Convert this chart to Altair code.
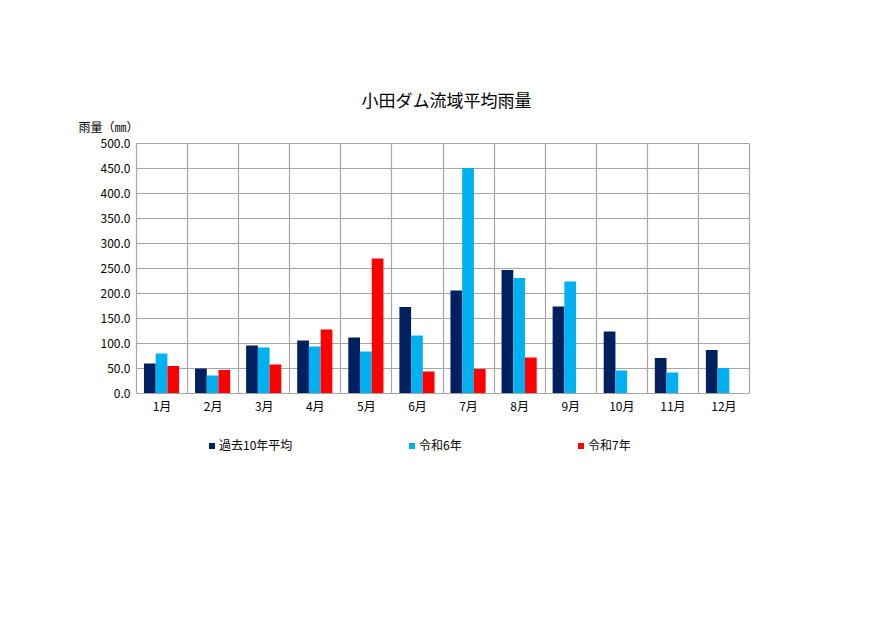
import altair as alt
import pandas as pd

months = ["1月", "2月", "3月", "4月", "5月", "6月", "7月", "8月", "9月", "10月", "11月", "12月"]
series_names = ["過去10年平均", "令和6年", "令和7年"]
avg10 = [59, 49, 95, 105, 111, 172, 205, 246, 173, 123, 70, 86]
r6 = [79, 35, 91, 93, 83, 115, 450, 230, 223, 45, 41, 50]
r7 = [54, 46, 57, 127, 269, 43, 48, 71, None, None, None, None]
colors = ["#002060", "#00B0F0", "#FF0000"]
y_ticks = [0, 50, 100, 150, 200, 250, 300, 350, 400, 450, 500]

rows = []
for i, m in enumerate(months):
    for s, vals in zip(series_names, [avg10, r6, r7]):
        if vals[i] is not None:
            rows.append({"month": m, "series": s, "value": vals[i]})
df = pd.DataFrame(rows)

font = "Noto Sans CJK JP"
grid_color = "#a6a6a6"

chart = alt.Chart(df).mark_bar().encode(
    x=alt.X("month:N", sort=months,
            scale=alt.Scale(paddingInner=0, paddingOuter=0),
            axis=alt.Axis(title=None, labelAngle=0, tickBand="extent", grid=True,
                          gridColor=grid_color, gridWidth=1.2, ticks=False, domain=False,
                          labelPadding=8, labelFontSize=12, labelColor="#000",
                          labelFont=font)),
    xOffset=alt.XOffset("series:N", sort=series_names,
                        scale=alt.Scale(domain=series_names, paddingInner=0, paddingOuter=0.68)),
    y=alt.Y("value:Q",
            scale=alt.Scale(domain=[0, 500], nice=False),
            axis=alt.Axis(values=y_ticks, format=".1f", grid=True, gridColor=grid_color,
                          gridWidth=1.2, ticks=False, domain=True, domainColor=grid_color,
                          labelPadding=6, labelFontSize=12, labelColor="#000", labelFont=font,
                          title="雨量（㎜）", titleAngle=0, titleAlign="left",
                          titleX=-58, titleY=-9, titleBaseline="bottom",
                          titleFontWeight="normal", titleFontSize=12, titleFont=font,
                          titleColor="#000")),
    color=alt.Color("series:N", sort=series_names,
                    scale=alt.Scale(domain=series_names, range=colors),
                    legend=alt.Legend(orient="none", legendX=70, legendY=297,
                                      direction="horizontal", title=None,
                                      symbolType="square", symbolSize=36,
                                      columnPadding=113, labelFontSize=12,
                                      labelFont=font, labelColor="#000",
                                      labelOffset=1)),
).properties(
    width=613,
    height=250,
    title=alt.TitleParams("小田ダム流域平均雨量", font=font, fontSize=17,
                          fontWeight="normal", color="#000", anchor="middle",
                          offset=10, dx=4),
    autosize=alt.AutoSizeParams(type="none"),
    padding={"left": 128, "top": 135, "right": 133, "bottom": 229},
).configure_view(
    stroke=grid_color, strokeWidth=1.2
).configure(background="white")

chart.save("out.html", embed_options={"renderer": "svg", "actions": False})
